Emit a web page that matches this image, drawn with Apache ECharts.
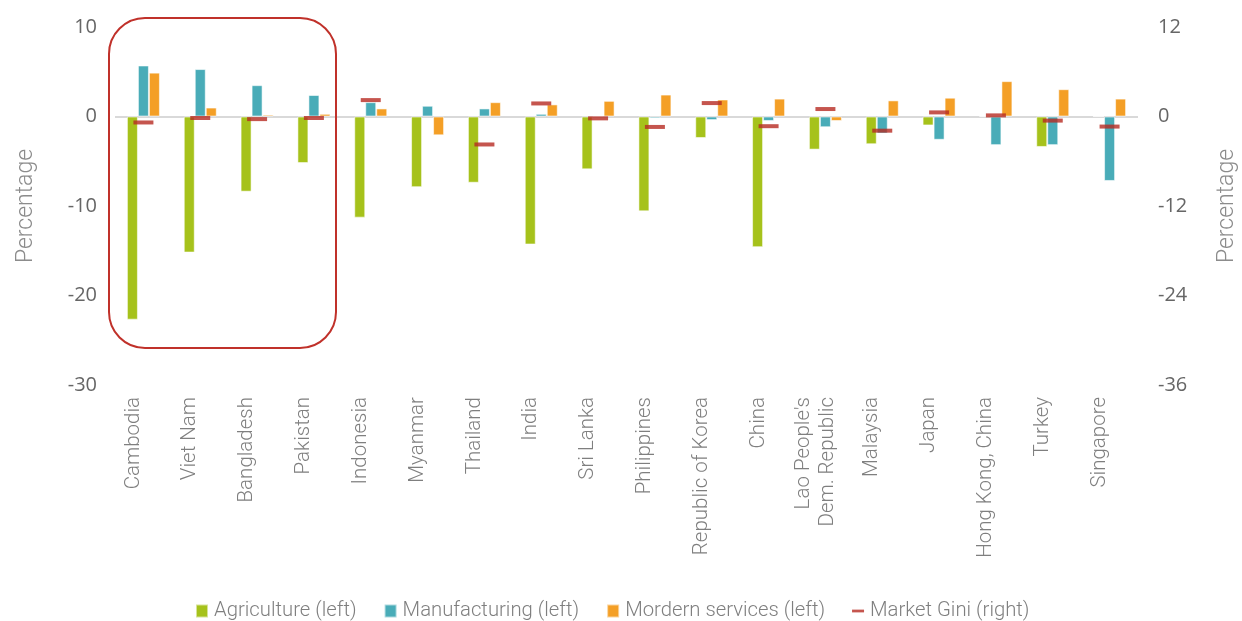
<!DOCTYPE html>
<html>
<head>
<meta charset="utf-8">
<script src="https://cdn.jsdelivr.net/npm/echarts@6/dist/echarts.min.js"></script>
<style>
  html, body { margin: 0; padding: 0; background: #ffffff; }
  #chart { width: 1242px; height: 621px; }
</style>
</head>
<body>
<div id="chart"></div>
<script>
// Economies, ordered by change in manufacturing share
const categories = [
  'Cambodia', 'Viet Nam', 'Bangladesh', 'Pakistan', 'Indonesia', 'Myanmar',
  'Thailand', 'India', 'Sri Lanka', 'Philippines', 'Republic of Korea', 'China',
  "Lao People's\nDem. Republic", 'Malaysia', 'Japan', 'Hong Kong, China', 'Turkey', 'Singapore'
];

// Change in employment share, percentage points (left axis)
const agriculture   = [-22.7, -15.2, -8.4, -5.2, -11.3, -7.9, -7.4, -14.3, -5.9, -10.6, -2.4, -14.6, -3.7, -3.1, -1.0, 0, -3.4, 0];
const manufacturing = [5.7, 5.3, 3.5, 2.4, 1.6, 1.2, 0.9, 0.3, 0, -0.2, -0.4, -0.5, -1.2, -1.9, -2.6, -3.2, -3.2, -7.2];
const services      = [4.9, 1.0, 0.2, 0.3, 0.9, -2.1, 1.6, 1.35, 1.75, 2.45, 1.9, 2.0, -0.5, 1.8, 2.1, 3.95, 3.05, 2.0];

// Change in market Gini (right axis)
const marketGini    = [-0.8, -0.2, -0.35, -0.2, 2.2, null, -3.75, 1.75, -0.25, -1.4, 1.8, -1.3, 1.0, -1.9, 0.55, 0.15, -0.55, -1.35];

// Axis ranges
const leftAxis  = { min: -30, max: 10, interval: 10 };
const rightAxis = { min: -36, max: 12, interval: 12 };

const LABEL_FONT = "'Roboto', sans-serif";
const TICK_FONT = "'Open Sans', 'Noto Sans', sans-serif";
const TICK_COLOR = '#666666';
const LABEL_COLOR = '#7f7f7f';
const COLORS = { agri: '#a6c21b', manu: '#49acb8', serv: '#f49f26', gini: '#b72a22' };

const chart = echarts.init(document.getElementById('chart'), null, { renderer: 'canvas' });

const barStyle = (color) => ({
  color: color,
  borderColor: 'rgba(255,255,255,0.55)',
  borderWidth: 1
});

const axisTitle = {
  fontFamily: LABEL_FONT, fontWeight: 300, fontSize: 23, color: '#8c8c8c'
};

// Category labels: each line as a rich token, plus a blank trailing line
// so the rotated block sits slightly left of the bar group.
const labelText = { fontFamily: LABEL_FONT, fontWeight: 300, fontSize: 20.5, color: LABEL_COLOR, lineHeight: 24 };
const categoryFormatter = (value) =>
  value.split('\n').map((line) => '{t|' + line + '}').join('\n') + '\n{g| }';

chart.setOption({
  animation: false,
  textStyle: { fontFamily: LABEL_FONT },
  grid: { left: 115, right: 104, top: 27, bottom: 236, containLabel: false, outerBoundsMode: 'none' },
  legend: {
    bottom: -5,
    left: 190,
    itemWidth: 12,
    itemHeight: 13,
    itemGap: 27,
    textStyle: { fontFamily: LABEL_FONT, fontWeight: 300, fontSize: 20.3, color: LABEL_COLOR, padding: [0, 0, 0, 1] },
    data: [
      { name: 'Agriculture (left)', icon: 'rect' },
      { name: 'Manufacturing (left)', icon: 'rect' },
      { name: 'Mordern services (left)', icon: 'rect' },
      { name: 'Market Gini (right)', icon: 'path://M0,0 L13,0 L13,3 L0,3 Z' }
    ]
  },
  graphic: [{
    type: 'rect',
    shape: { x: 109, y: 18, width: 227, height: 330, r: 36 },
    style: { fill: 'none', stroke: '#c0312a', lineWidth: 2 },
    silent: true,
    z: 10
  }],
  xAxis: {
    type: 'category',
    data: categories,
    axisLine: { show: false },
    axisTick: { show: false },
    axisLabel: {
      rotate: 90,
      interval: 0,
      margin: 12,
      formatter: categoryFormatter,
      rich: {
        t: labelText,
        g: { fontSize: 10, lineHeight: 20 }
      }
    }
  },
  yAxis: [
    {
      type: 'value',
      min: leftAxis.min, max: leftAxis.max, interval: leftAxis.interval,
      name: 'Percentage',
      nameLocation: 'middle',
      nameRotate: 90,
      nameGap: 77,
      nameTextStyle: axisTitle,
      axisLine: { show: false },
      axisTick: { show: false },
      splitLine: { show: false },
      axisLabel: { fontFamily: TICK_FONT, fontSize: 20, color: TICK_COLOR, margin: 18 }
    },
    {
      type: 'value',
      position: 'right',
      min: rightAxis.min, max: rightAxis.max, interval: rightAxis.interval,
      name: 'Percentage',
      nameLocation: 'middle',
      nameRotate: 90,
      nameGap: 78,
      nameTextStyle: axisTitle,
      axisLine: { show: false },
      axisTick: { show: false },
      splitLine: { show: false },
      axisLabel: { fontFamily: TICK_FONT, fontSize: 20, color: TICK_COLOR, margin: 20 }
    }
  ],
  series: [
    {
      name: 'Agriculture (left)',
      type: 'bar',
      data: agriculture,
      barWidth: 11,
      barGap: '0%',
      itemStyle: barStyle(COLORS.agri),
      markLine: {
        silent: true,
        symbol: 'none',
        label: { show: false },
        lineStyle: { color: '#d9d9d9', width: 2, type: 'solid' },
        data: [{ yAxis: 0 }],
        z: 1
      }
    },
    {
      name: 'Manufacturing (left)',
      type: 'bar',
      data: manufacturing,
      barWidth: 11,
      barGap: '0%',
      itemStyle: barStyle(COLORS.manu)
    },
    {
      name: 'Mordern services (left)',
      type: 'bar',
      data: services,
      barWidth: 11,
      barGap: '0%',
      itemStyle: barStyle(COLORS.serv)
    },
    {
      name: 'Market Gini (right)',
      type: 'scatter',
      yAxisIndex: 1,
      data: marketGini,
      symbol: 'rect',
      symbolSize: [20, 4],
      itemStyle: { color: COLORS.gini },
      z: 5
    }
  ]
});
</script>
</body>
</html>
